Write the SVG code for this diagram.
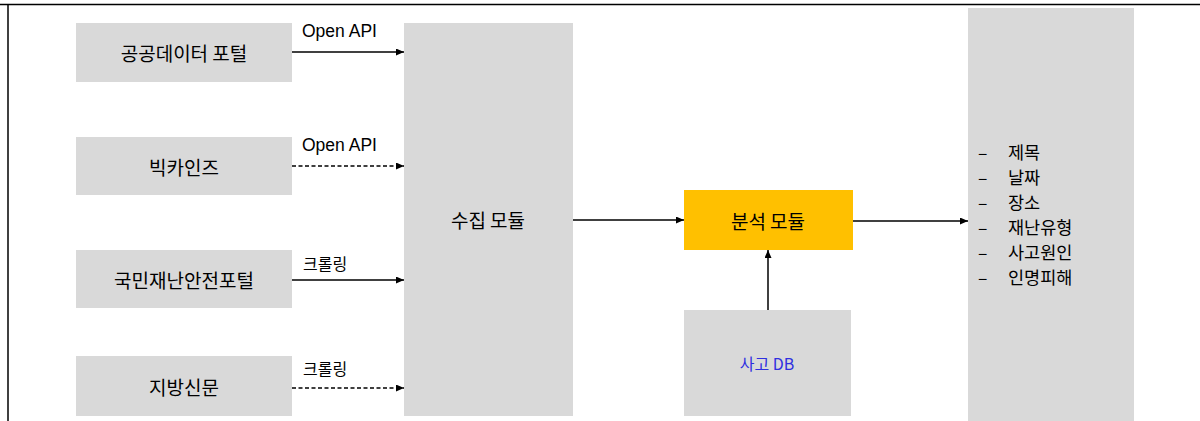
<svg xmlns="http://www.w3.org/2000/svg" width="1200" height="421" viewBox="0 0 1200 421">
<style>
.box{fill:#d9d9d9}
.t{font-family:"Noto Sans CJK KR","Liberation Sans",sans-serif;font-size:19px;fill:#000;text-anchor:middle;dominant-baseline:central}
.lbl{font-family:"Liberation Sans","Noto Sans CJK KR",sans-serif;font-size:17.5px;fill:#000}
.lk{font-family:"Noto Sans CJK KR","Liberation Sans",sans-serif;font-size:16px;fill:#000}
.li{font-family:"Noto Sans CJK KR","Liberation Sans",sans-serif;font-size:17.5px;fill:#000;dominant-baseline:central}
.c{stroke:#000;stroke-width:1.5;fill:none;marker-end:url(#ah)}
.d{stroke-dasharray:4 2.5}
</style>
<defs>
<marker id="ah" viewBox="0 0 10 10" refX="10" refY="5" markerWidth="8" markerHeight="7" markerUnits="userSpaceOnUse" orient="auto" preserveAspectRatio="none">
<path d="M0,0 L10,5 L0,10 z" fill="#000"/>
</marker>
</defs>
<rect width="1200" height="421" fill="#fff"/>
<g id="frame">
<line x1="0" y1="4.5" x2="1200" y2="4.5" stroke="#000" stroke-width="1.5"/>
<line x1="8" y1="4" x2="8" y2="421" stroke="#000" stroke-width="1.5"/>
</g>
<g id="n-portal"><rect class="box" x="76" y="23" width="216" height="59"/><text class="t" x="184" y="52">공공데이터 포털</text></g>
<g id="n-bigkinds"><rect class="box" x="76" y="137" width="216" height="58"/><text class="t" x="184" y="166">빅카인즈</text></g>
<g id="n-safety"><rect class="box" x="76" y="250" width="216" height="58"/><text class="t" x="184" y="279">국민재난안전포털</text></g>
<g id="n-local"><rect class="box" x="76" y="356" width="216" height="60"/><text class="t" x="184" y="386">지방신문</text></g>
<g id="n-collect"><rect class="box" x="404" y="23" width="169" height="393"/><text class="t" x="488" y="219">수집 모듈</text></g>
<g id="n-analyze"><rect x="684" y="190" width="169" height="60" fill="#ffc000"/><text class="t" x="768" y="220">분석 모듈</text></g>
<g id="n-db"><rect class="box" x="684" y="310" width="167" height="106"/><text class="t" x="767" y="363" style="fill:#2f2fe0;font-size:16px">사고 DB</text></g>
<g id="n-output"><rect class="box" x="968" y="8" width="166" height="413"/>
<text class="li" x="978" y="151">–</text><text class="li" x="1008" y="151">제목</text>
<text class="li" x="978" y="176">–</text><text class="li" x="1008" y="176">날짜</text>
<text class="li" x="978" y="201">–</text><text class="li" x="1008" y="201">장소</text>
<text class="li" x="978" y="226">–</text><text class="li" x="1008" y="226">재난유형</text>
<text class="li" x="978" y="251">–</text><text class="li" x="1008" y="251">사고원인</text>
<text class="li" x="978" y="276">–</text><text class="li" x="1008" y="276">인명피해</text>
</g>
<g id="connectors">
<line class="c" x1="292" y1="52" x2="404" y2="52"/>
<line class="c d" x1="292" y1="166" x2="404" y2="166"/>
<line class="c" x1="292" y1="280" x2="404" y2="280"/>
<line class="c d" x1="292" y1="388" x2="404" y2="388"/>
<line class="c" x1="573" y1="220" x2="684" y2="220"/>
<line class="c" x1="853" y1="221" x2="968" y2="221"/>
<line class="c" x1="768" y1="310" x2="768" y2="250"/>
<text class="lbl" x="302" y="37">Open API</text>
<text class="lbl" x="302" y="151">Open API</text>
<text class="lk" x="303" y="270">크롤링</text>
<text class="lk" x="303" y="375">크롤링</text>
</g>
</svg>
